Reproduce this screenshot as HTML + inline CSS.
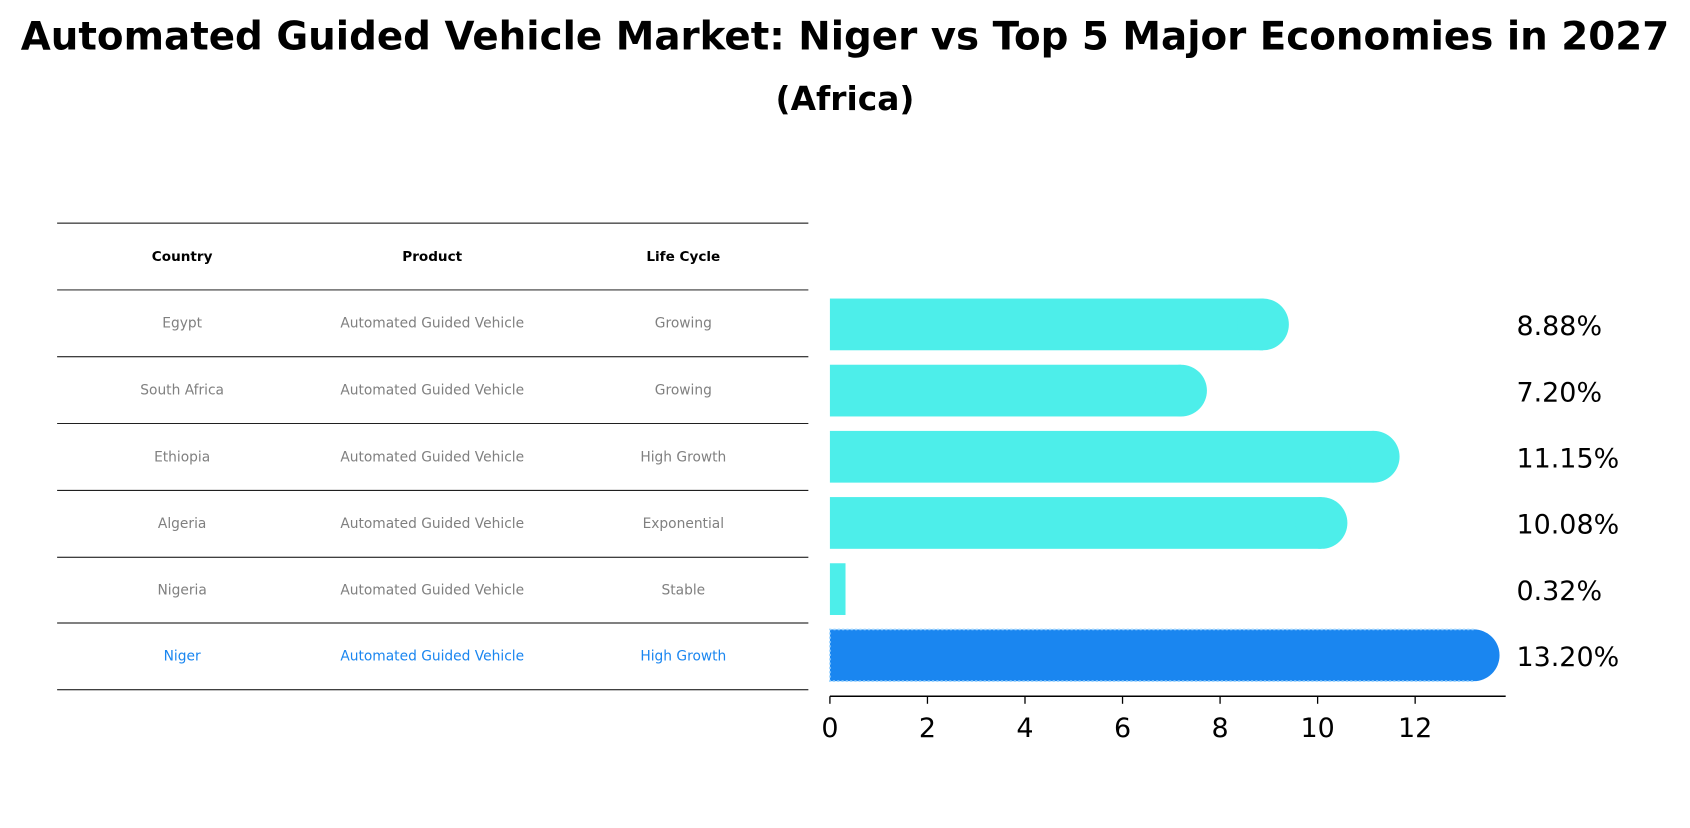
<!DOCTYPE html>
<html><head><meta charset="utf-8"><style>
body{margin:0;background:#fff;font-family:"Liberation Sans","DejaVu Sans",sans-serif}
svg text{font-family:"DejaVu Sans","Liberation Sans",sans-serif}
</style></head><body>
<svg id="c" width="1690" height="823" viewBox="0 0 1568 763.6" preserveAspectRatio="none" xmlns="http://www.w3.org/2000/svg">
<text x="784" y="46" text-anchor="middle" font-size="36" font-weight="bold">Automated Guided Vehicle Market: Niger vs Top 5 Major Economies in 2027</text>
<text x="784" y="102" text-anchor="middle" font-size="30.5" font-weight="bold">(Africa)</text>
<g id="table"></g>
<g id="bars"></g>
</svg>
<script>
const countries=["Egypt","South Africa","Ethiopia","Algeria","Nigeria","Niger"];
const products=["Automated Guided Vehicle","Automated Guided Vehicle","Automated Guided Vehicle","Automated Guided Vehicle","Automated Guided Vehicle","Automated Guided Vehicle"];
const lifecycle=["Growing","Growing","High Growth","Exponential","Stable","High Growth"];
const values=[8.88,7.20,11.15,10.08,0.32,13.20];
const valueLabels=["8.88%","7.20%","11.15%","10.08%","0.32%","13.20%"];
const ticks=[0,2,4,6,8,10,12];
const NS="http://www.w3.org/2000/svg";
function mk(t,a,p,txt){const e=document.createElementNS(NS,t);for(const k in a)e.setAttribute(k,a[k]);if(txt!==undefined)e.textContent=txt;p.appendChild(e);return e;}
const x=v=>770+v*45.25;
const rowY=i=>301+i*61.4;
const tb=document.getElementById('table'),bg=document.getElementById('bars');
const lines=[207,269,331,393,455,517,578,640];
lines.forEach((ly,i)=>{const l=mk('line',{x1:53,x2:750,y1:ly,y2:ly,stroke:'#000','stroke-width':0.9},tb);
});
const cx=[169,401,634];
["Country","Product","Life Cycle"].forEach((h,j)=>{const t=mk('text',{x:cx[j],y:242,'text-anchor':'middle','font-size':12.6,'font-weight':'bold'},tb,h);
});
countries.forEach((c,i)=>{const y=(lines[i+1]+lines[i+2])/2+4;const col=i===5?'#1a86f0':'#808080';
[c,products[i],lifecycle[i]].forEach((v,j)=>{const t=mk('text',{x:cx[j],y:y,'text-anchor':'middle','font-size':12.8,fill:col},tb,v);
});});
const h=48;
values.forEach((v,i)=>{const yc=rowY(i);const niger=i===5;const col=niger?'#1a86f0':'#4deeea';
const r=mk('rect',{x:770,y:yc-h/2,width:x(v)-770,height:h,fill:col},bg);

if(v>1){const ci=mk('circle',{cx:x(v),cy:yc,r:h/2,fill:col},bg);}
if(niger){const o=mk('path',{d:`M${x(v)},${yc-h/2} H770 V${yc+h/2} H${x(v)}`,fill:'none',stroke:'#9fd6ff','stroke-width':1.5,'stroke-dasharray':'2,2'},bg);}
const t=mk('text',{x:1407,y:yc+10,'font-size':25},bg,valueLabels[i]);
});
const ax=mk('line',{x1:770,x2:1397,y1:646,y2:646,stroke:'#000','stroke-width':1.3},bg);

ticks.forEach(tv=>{const l=mk('line',{x1:x(tv),x2:x(tv),y1:646,y2:653,stroke:'#000','stroke-width':1.2},bg);

const t=mk('text',{x:x(tv),y:684,'text-anchor':'middle','font-size':25},bg,String(tv));
});
</script>
</body></html>
